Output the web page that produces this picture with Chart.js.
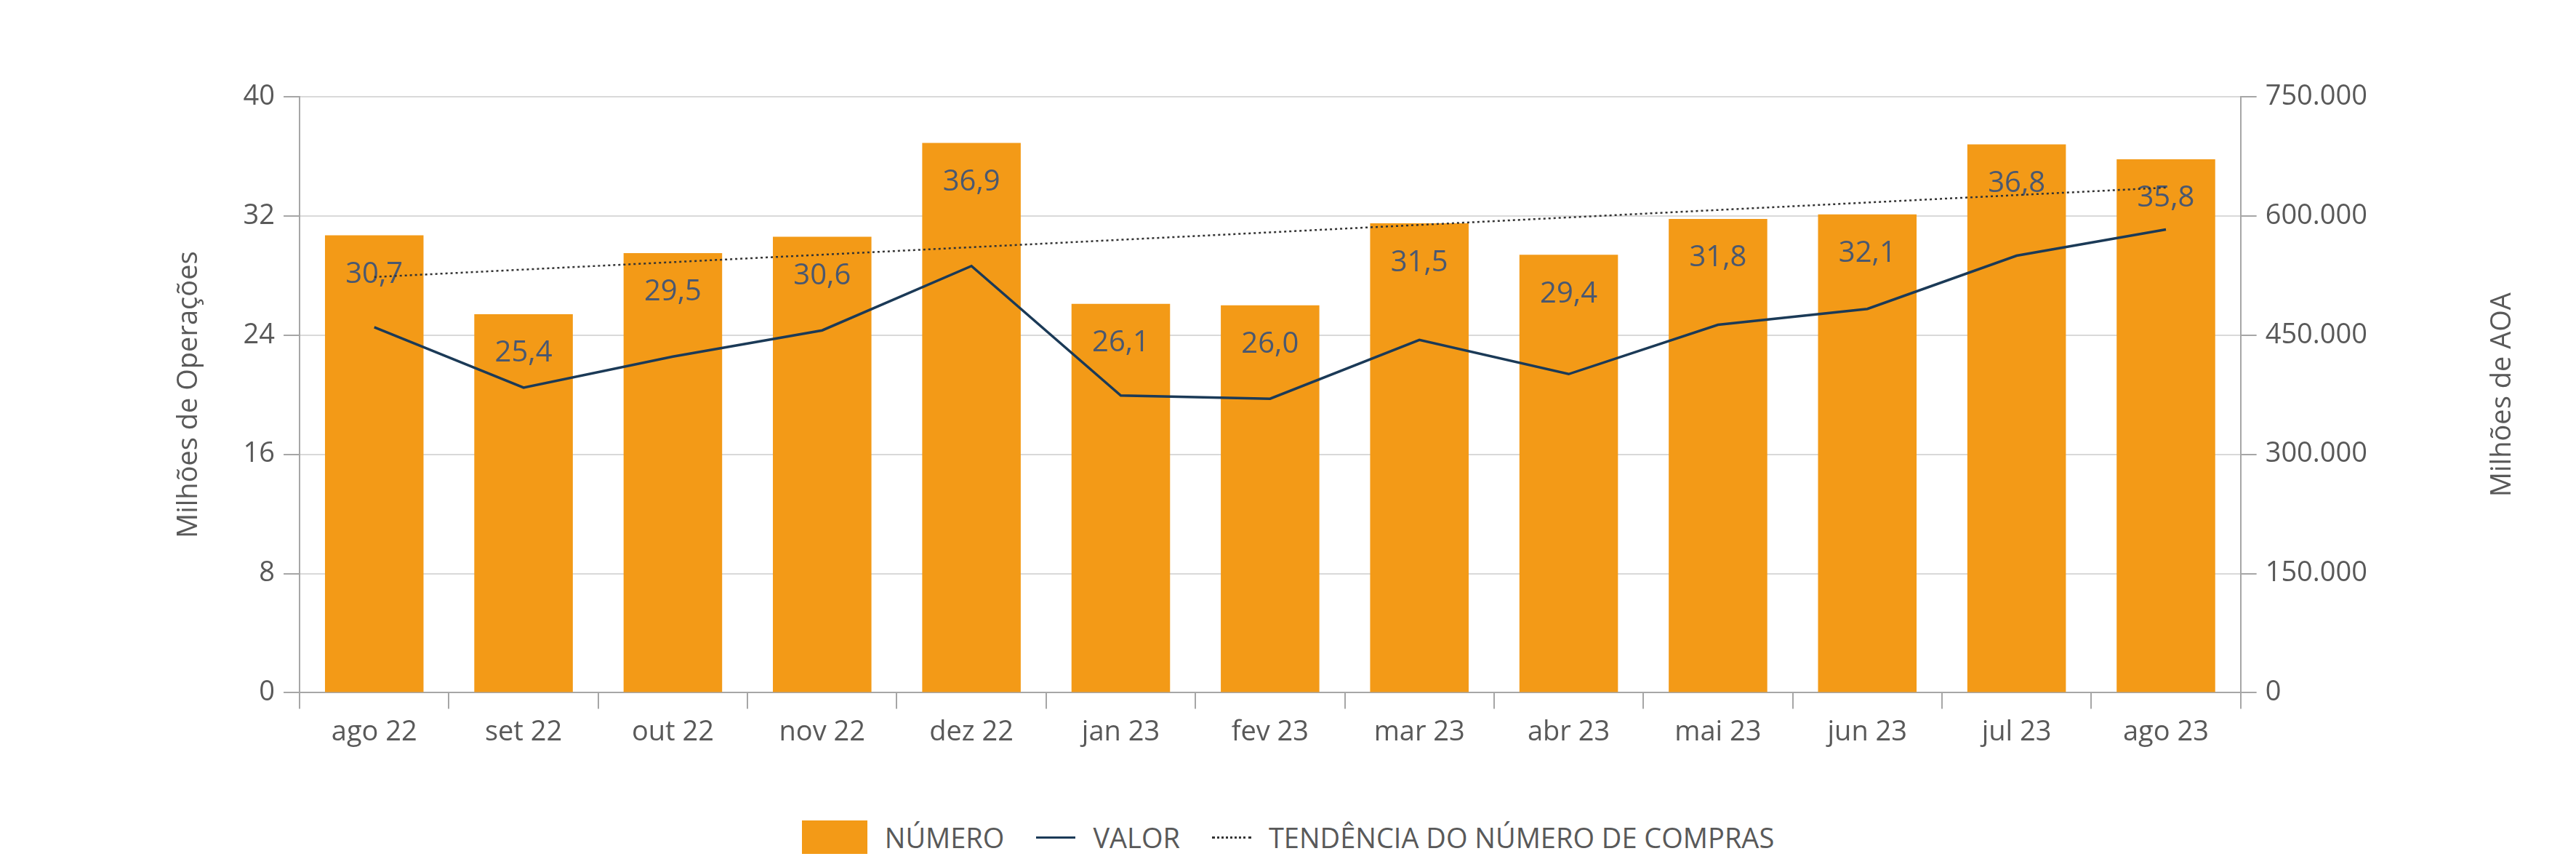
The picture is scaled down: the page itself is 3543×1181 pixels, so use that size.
<!DOCTYPE html>
<html>
<head>
<meta charset="utf-8">
<script src="https://cdn.jsdelivr.net/npm/chart.js@4"></script>
<style>
  html, body { margin: 0; padding: 0; background: #fff; }
  #wrap { position: relative; width: 3543px; height: 1181px; }
  #legend { position: absolute; left: 0; width: 3543px; top: 1125px; display: flex; justify-content: center; align-items: center;
    font-family: 'Open Sans', sans-serif; font-size: 38px; color: #595959; }
  .item { display: flex; align-items: center; margin: 0 22px; }
  .sw { margin-right: 24px; }
</style>
</head>
<body>
<div id="wrap">
  <canvas id="c" width="3543" height="1100"></canvas>
  <div id="legend">
    <div class="item"><span class="sw" style="display:inline-block;width:90px;height:46px;background:#F39A17"></span>NÚMERO</div>
    <div class="item"><span class="sw" style="display:inline-block;width:54px;border-top:3px solid #1B3A57"></span>VALOR</div>
    <div class="item"><span class="sw" style="display:inline-block;width:54px;border-top:3px dotted #333"></span>TENDÊNCIA DO NÚMERO DE COMPRAS</div>
  </div>
</div>
<script>
const months  = ['ago 22','set 22','out 22','nov 22','dez 22','jan 23','fev 23','mar 23','abr 23','mai 23','jun 23','jul 23','ago 23'];
const numero  = [30.7, 25.4, 29.5, 30.6, 36.9, 26.1, 26.0, 31.5, 29.4, 31.8, 32.1, 36.8, 35.8];
const valor   = [460000, 384000, 423000, 456000, 537000, 374000, 370000, 444000, 401000, 463000, 483000, 550000, 583000];
const tendencia = [27.9, 28.4, 28.9, 29.4, 29.9, 30.4, 30.9, 31.4, 31.9, 32.4, 32.9, 33.4, 33.9];

const TXT = '#595959';
const FONT = { family: "'Open Sans', sans-serif", size: 38 };

new Chart(document.getElementById('c').getContext('2d'), {
  data: {
    labels: months,
    datasets: [
      { type: 'line', label: 'TENDÊNCIA', data: tendencia, yAxisID: 'y', borderColor: '#333', borderWidth: 2.5,
        borderDash: [3, 4], pointRadius: 0, tension: 0, order: 1 },
      { type: 'line', label: 'VALOR', data: valor, yAxisID: 'y2', borderColor: '#1B3A57', borderWidth: 3.5,
        pointRadius: 0, tension: 0, order: 2 },
      { type: 'bar', label: 'NÚMERO', data: numero, yAxisID: 'y', backgroundColor: '#F39A17',
        categoryPercentage: 1, barPercentage: 0.66, order: 3 }
    ]
  },
  plugins: [{
    id: 'barLabels',
    afterDatasetDraw(chart, args) {
      if (args.index !== 2) return;
      const ctx = chart.ctx;
      const meta = chart.getDatasetMeta(2);
      ctx.save();
      ctx.font = "40px 'Open Sans', sans-serif";
      ctx.fillStyle = '#4A5870';
      ctx.textAlign = 'center';
      ctx.textBaseline = 'middle';
      meta.data.forEach((bar, i) => {
        ctx.fillText(numero[i].toFixed(1).replace('.', ','), bar.x, bar.y + 54);
      });
      ctx.restore();
    }
  }, {
    id: 'rightTitle',
    afterDraw(chart) {
      const ctx = chart.ctx;
      const a = chart.chartArea;
      ctx.save();
      ctx.font = "38px 'Open Sans', sans-serif";
      ctx.fillStyle = TXT;
      ctx.textAlign = 'center';
      ctx.textBaseline = 'middle';
      ctx.translate(3442, (a.top + a.bottom) / 2);
      ctx.rotate(-Math.PI / 2);
      ctx.fillText('Milhões de AOA', 0, 0);
      ctx.restore();
    }
  }],
  options: {
    responsive: false,
    animation: false,
    devicePixelRatio: 1,
    layout: { padding: { left: 233, right: 275, top: 133, bottom: 60 } },
    plugins: { legend: { display: false }, tooltip: { enabled: false } },
    scales: {
      x: {
        offset: true,
        grid: { display: true, drawOnChartArea: false, offset: true, tickLength: 22, color: '#A6A6A6', lineWidth: 2 },
        border: { color: '#A6A6A6', width: 2 },
        ticks: { color: TXT, font: FONT, padding: 10 }
      },
      y: {
        position: 'left', min: 0, max: 40,
        ticks: { stepSize: 8, color: TXT, font: FONT, padding: 12 },
        grid: { color: '#D9D9D9', lineWidth: 2, tickLength: 22, tickColor: '#A6A6A6' },
        border: { color: '#A6A6A6', width: 2 },
        title: { display: true, text: 'Milhões de Operações', color: TXT, font: FONT, padding: { bottom: 40 } }
      },
      y2: {
        position: 'right', min: 0, max: 750000,
        ticks: { stepSize: 150000, color: TXT, font: FONT, padding: 12,
          callback: v => v.toString().replace(/\B(?=(\d{3})+(?!\d))/g, '.') },
        grid: { drawOnChartArea: false, tickLength: 22, color: '#A6A6A6', lineWidth: 2 },
        border: { color: '#A6A6A6', width: 2 }
      }
    }
  }
});
</script>
</body>
</html>
